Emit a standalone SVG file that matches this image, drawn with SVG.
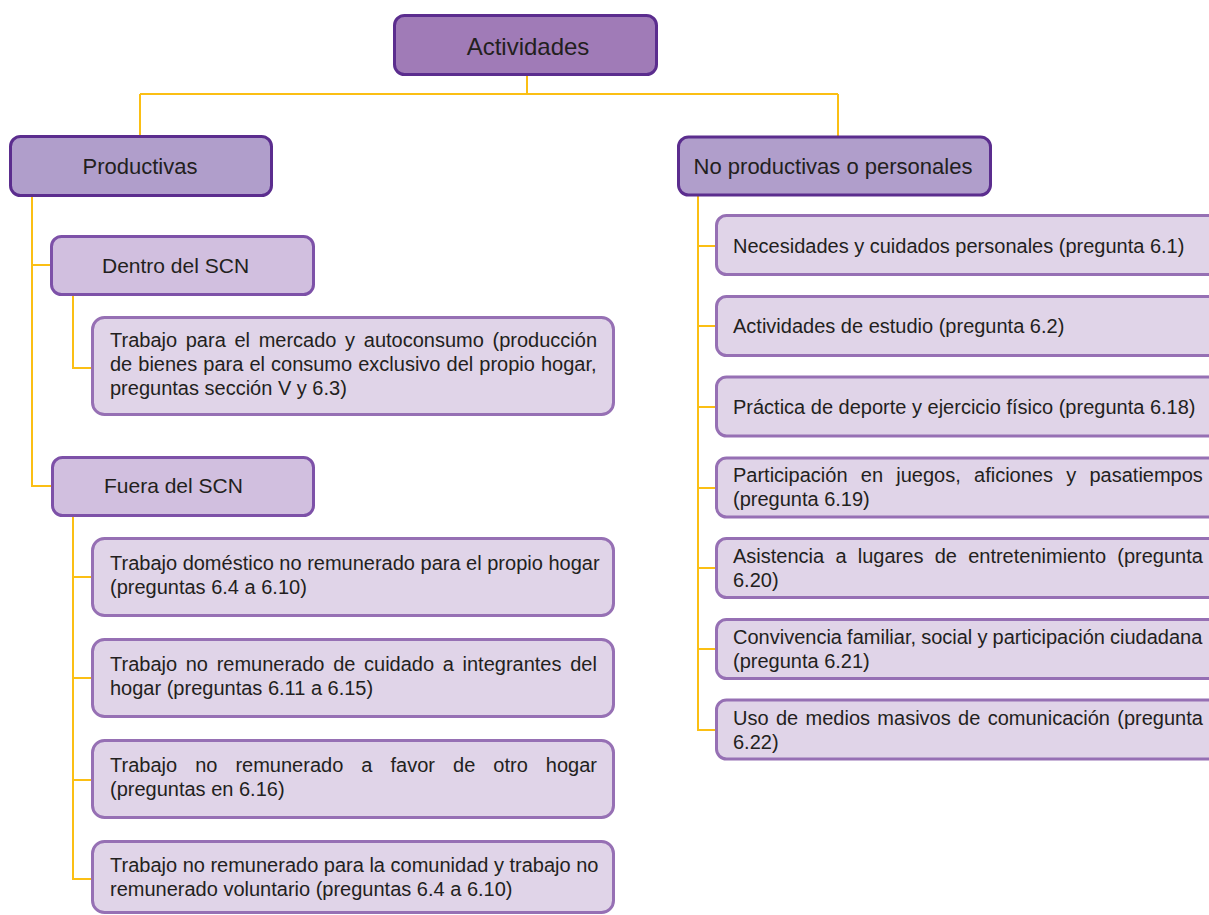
<svg xmlns="http://www.w3.org/2000/svg" width="1209" height="915" viewBox="0 0 1209 915">
<style>
text{font-family:"Liberation Sans",Arial,sans-serif;fill:#231f20}
.top{fill:#a07bb7;stroke:#5b2d8e;stroke-width:3}
.l1{fill:#b09ecb;stroke:#5b2d8e;stroke-width:3}
.l2{fill:#d1bfdf;stroke:#7d51a8;stroke-width:3}
.leaf{fill:#e0d4e8;stroke:#9670b4;stroke-width:3}
.conn{fill:none;stroke:#fbbf14;stroke-width:2}
.t20{font-size:20px}
</style>
<rect width="1209" height="915" fill="#ffffff"/>
<g id="connectors" class="conn">
<path d="M527 76V94M140 94H838M140 94V136M838 94V136"/>
<path d="M32 197V486H51M32 265H51"/>
<path d="M73 296V368H92"/>
<path d="M73 517V879H92M73 577H92M73 678H92M73 780H92"/>
<path d="M698 196V730H715M698 246H715M698 326H715M698 407H715M698 488H715M698 568H715M698 649H715"/>
</g>
<g id="actividades"><rect class="top" x="394.5" y="15.5" width="262" height="59" rx="10"/><text x="528" y="55" font-size="24" text-anchor="middle">Actividades</text></g>
<g id="productivas"><rect class="l1" x="10.5" y="136.5" width="261" height="59" rx="10"/><text x="140" y="174" font-size="22" text-anchor="middle">Productivas</text></g>
<g id="no-productivas"><rect class="l1" x="678.5" y="137" width="312" height="58" rx="10"/><text x="833" y="174" font-size="22" text-anchor="middle">No productivas o personales</text></g>
<g id="dentro"><rect class="l2" x="51.5" y="236.5" width="262" height="58" rx="10"/><text x="102" y="273" font-size="21">Dentro del SCN</text></g>
<g id="fuera"><rect class="l2" x="52.5" y="457.5" width="261" height="58" rx="10"/><text x="104" y="493" font-size="21">Fuera del SCN</text></g>
<g id="mercado"><rect class="leaf" x="92.5" y="317.5" width="521" height="97" rx="12"/><text class="t20"><tspan x="110" y="347" word-spacing="3.1">Trabajo para el mercado y autoconsumo (producción</tspan><tspan x="110" y="371" word-spacing="0.5">de bienes para el consumo exclusivo del propio hogar,</tspan><tspan x="110" y="395">preguntas sección V y 6.3)</tspan></text></g>
<g id="domestico"><rect class="leaf" x="92.5" y="538.5" width="521" height="77" rx="12"/><text class="t20"><tspan x="110" y="570">Trabajo doméstico no remunerado para el propio hogar</tspan><tspan x="110" y="594">(preguntas 6.4 a 6.10)</tspan></text></g>
<g id="cuidado"><rect class="leaf" x="92.5" y="639.5" width="521" height="77" rx="12"/><text class="t20"><tspan x="110" y="671" word-spacing="3.1">Trabajo no remunerado de cuidado a integrantes del</tspan><tspan x="110" y="695">hogar (preguntas 6.11 a 6.15)</tspan></text></g>
<g id="otro-hogar"><rect class="leaf" x="92.5" y="740.5" width="521" height="77" rx="12"/><text class="t20"><tspan x="110" y="772" word-spacing="12.5">Trabajo no remunerado a favor de otro hogar</tspan><tspan x="110" y="796">(preguntas en 6.16)</tspan></text></g>
<g id="comunidad"><rect class="leaf" x="92.5" y="841.5" width="521" height="71" rx="12"/><text class="t20"><tspan x="110" y="872">Trabajo no remunerado para la comunidad y trabajo no</tspan><tspan x="110" y="896">remunerado voluntario (preguntas 6.4 a 6.10)</tspan></text></g>
<g id="necesidades"><rect class="leaf" x="716.5" y="215.5" width="520" height="59" rx="10"/><text class="t20" x="733" y="253">Necesidades y cuidados personales (pregunta 6.1)</text></g>
<g id="estudio"><rect class="leaf" x="716.5" y="296.5" width="520" height="59" rx="10"/><text class="t20" x="733" y="333">Actividades de estudio (pregunta 6.2)</text></g>
<g id="deporte"><rect class="leaf" x="716.5" y="377" width="520" height="59" rx="10"/><text class="t20" x="733" y="414">Práctica de deporte y ejercicio físico (pregunta 6.18)</text></g>
<g id="juegos"><rect class="leaf" x="716.5" y="458" width="520" height="59" rx="10"/><text class="t20"><tspan x="733" y="482" word-spacing="7.7">Participación en juegos, aficiones y pasatiempos</tspan><tspan x="733" y="506">(pregunta 6.19)</tspan></text></g>
<g id="entretenimiento"><rect class="leaf" x="716.5" y="538.5" width="520" height="59" rx="10"/><text class="t20"><tspan x="733" y="563" word-spacing="5.7">Asistencia a lugares de entretenimiento (pregunta</tspan><tspan x="733" y="587">6.20)</tspan></text></g>
<g id="convivencia"><rect class="leaf" x="716.5" y="619.5" width="520" height="59" rx="10"/><text class="t20"><tspan x="733" y="644" word-spacing="-0.4">Convivencia familiar, social y participación ciudadana</tspan><tspan x="733" y="668">(pregunta 6.21)</tspan></text></g>
<g id="medios"><rect class="leaf" x="716.5" y="700" width="520" height="59" rx="10"/><text class="t20"><tspan x="733" y="725" word-spacing="1.8">Uso de medios masivos de comunicación (pregunta</tspan><tspan x="733" y="749">6.22)</tspan></text></g>
</svg>
